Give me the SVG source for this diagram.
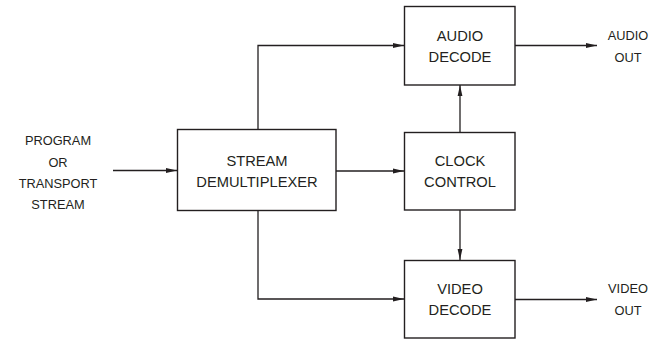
<svg xmlns="http://www.w3.org/2000/svg" width="655" height="340" viewBox="0 0 655 340">
<defs>
<marker id="arr" markerWidth="11" markerHeight="6" refX="11" refY="3" orient="auto" markerUnits="userSpaceOnUse">
<path d="M0,0.6 L11,3 L0,5.4 Z" fill="#231f20"/>
</marker>
<style>
.box{fill:#fff;stroke:#231f20;stroke-width:1.4}
.ln{fill:none;stroke:#231f20;stroke-width:1.3;marker-end:url(#arr)}
.t{font-family:"Liberation Sans",Arial,sans-serif;font-size:14.7px;fill:#231f20;text-anchor:middle}
.s{font-family:"Liberation Sans",Arial,sans-serif;font-size:12.8px;fill:#231f20;text-anchor:middle}
</style>
</defs>
<rect width="655" height="340" fill="#fff"/>
<g id="connectors">
<path class="ln" d="M113,170.5 L177,170.5"/>
<path class="ln" d="M258,129 L258,45.5 L404,45.5"/>
<path class="ln" d="M258,211 L258,299 L404,299"/>
<path class="ln" d="M336,171 L404,171"/>
<path class="ln" d="M460,132 L460,85"/>
<path class="ln" d="M460,210 L460,260"/>
<path class="ln" d="M515,45.5 L597,45.5"/>
<path class="ln" d="M515,299.5 L597,299.5"/>
</g>
<g id="input">
<text class="s" x="58" y="145">PROGRAM</text>
<text class="s" x="58" y="166.5">OR</text>
<text class="s" x="58" y="187.5">TRANSPORT</text>
<text class="s" x="58" y="208.5">STREAM</text>
</g>
<g id="demux">
<rect class="box" x="177.5" y="129.5" width="158.5" height="81"/>
<text class="t" x="257" y="166">STREAM</text>
<text class="t" x="257" y="187">DEMULTIPLEXER</text>
</g>
<g id="audio">
<rect class="box" x="404.5" y="6.5" width="110.5" height="78.5"/>
<text class="t" x="460" y="40.5">AUDIO</text>
<text class="t" x="460" y="61.5">DECODE</text>
</g>
<g id="clock">
<rect class="box" x="404.5" y="132.5" width="110.5" height="77.5"/>
<text class="t" x="460" y="166">CLOCK</text>
<text class="t" x="460" y="187">CONTROL</text>
</g>
<g id="video">
<rect class="box" x="404.5" y="260.5" width="110.5" height="77.5"/>
<text class="t" x="460" y="294">VIDEO</text>
<text class="t" x="460" y="315">DECODE</text>
</g>
<g id="audio-out">
<text class="s" x="628" y="40">AUDIO</text>
<text class="s" x="628" y="61.5">OUT</text>
</g>
<g id="video-out">
<text class="s" x="628" y="293">VIDEO</text>
<text class="s" x="628" y="314.5">OUT</text>
</g>
</svg>
